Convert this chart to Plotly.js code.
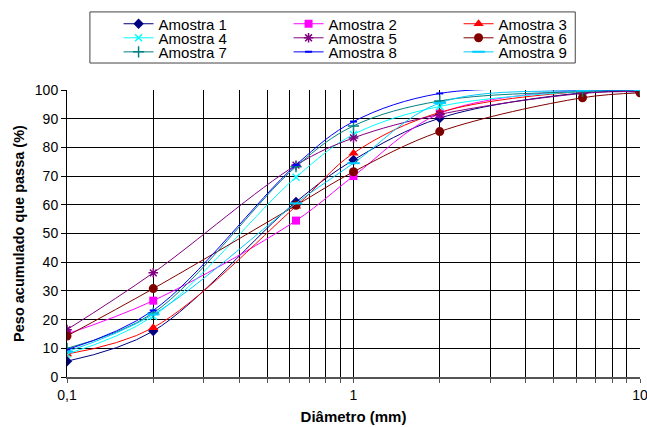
<!DOCTYPE html>
<html>
<head>
<meta charset="utf-8">
<script src="https://cdn.plot.ly/plotly-3.0.1.min.js"></script>
<style>html,body{margin:0;padding:0;background:#fff;}#chart{width:647px;height:427px;}</style>
</head>
<body>
<div id="chart"></div>
<script>
// Sieve diameters (mm)
const diametro = [0.1, 0.2, 0.63, 1, 2, 6.3, 10];
// Cumulative passing (%) per sample
const amostra1 = [5.5, 16.0, 61.0, 75.6, 90.2, 99.0, 99.3];
const amostra2 = [15.0, 26.6, 54.5, 70.0, 91.8, 100.0, 100.0];
const amostra3 = [8.0, 17.2, 59.5, 78.0, 92.2, 99.5, 99.8];
const amostra4 = [8.0, 21.2, 69.6, 84.5, 94.3, 99.5, 100.0];
const amostra5 = [16.5, 36.3, 73.8, 83.3, 91.5, 98.8, 99.5];
const amostra6 = [14.3, 30.8, 59.8, 71.5, 85.5, 97.3, 99.0];
const amostra7 = [10.0, 22.3, 73.3, 87.5, 96.2, 99.5, 100.0];
const amostra8 = [9.5, 23.2, 73.9, 89.0, 98.8, 100.0, 100.0];
const amostra9 = [8.8, 21.8, 60.5, 74.5, 95.5, 99.8, 100.0];
const nomes = ['Amostra 1','Amostra 2','Amostra 3','Amostra 4','Amostra 5','Amostra 6','Amostra 7','Amostra 8','Amostra 9'];

// Axis ticks
const xTickVals = [0.1,0.2,0.3,0.4,0.5,0.6,0.7,0.8,0.9,1,2,3,4,5,6,7,8,9,10];
const xTickText = ['0,1','','','','','','','','','1','','','','','','','','','10'];
const yTickVals = [0,10,20,30,40,50,60,70,80,90,100];

const series = [amostra1,amostra2,amostra3,amostra4,amostra5,amostra6,amostra7,amostra8,amostra9];
const cores = ['#000080','#FF00FF','#FF0000','#00FFFF','#800080','#800000','#008080','#0000FF','#00CCFF'];
const simbolos = ['diamond','square','triangle-up','x-thin-open','asterisk-open','circle','cross-thin-open','line-ew-open','line-ew-open'];
const tamanhos = [8,8,9,7,8,9,8,5,9];
const legendas = ['legend','legend','legend','legend2','legend2','legend2','legend3','legend3','legend3'];

const traces = series.map((y,i)=>({
  x: diametro, y: y, name: nomes[i], type:'scatter', mode:'lines+markers',
  line:{color:cores[i], width:1, shape:'spline', smoothing:1},
  marker:{symbol:simbolos[i], size:tamanhos[i], color:cores[i], line:{color:cores[i], width:(i===3||i===4||i===6)?1.5:(i>=7?2:0)}},
  legend: legendas[i]
}));

const FONT = 'Liberation Sans, Arial, sans-serif';
function leg(y){
  return {orientation:'h', x:0.09, xanchor:'left', y:y, yanchor:'middle',
    bgcolor:'rgba(0,0,0,0)', borderwidth:0, entrywidth:125, entrywidthmode:'pixels',
    font:{family:FONT, size:15, color:'#000'}, itemwidth:30, tracegroupgap:0};
}

const layout = {
  width:647, height:427,
  margin:{l:67, r:7, t:90, b:50, autoexpand:false},
  paper_bgcolor:'#fff', plot_bgcolor:'#fff',
  font:{family:FONT, size:14, color:'#000'},
  showlegend:true,
  legend: leg(1.230),
  legend2: leg(1.181),
  legend3: leg(1.132),
  xaxis:{type:'log', range:[-1,1], tickvals:xTickVals, ticktext:xTickText, ticklabeloverflow:'allow',
    showgrid:true, gridcolor:'#000', gridwidth:1, zeroline:false,
    showline:true, linecolor:'#555', linewidth:2, ticks:'outside', ticklen:4, tickcolor:'#555',
    tickfont:{family:FONT, size:14, color:'#000'},
    title:{text:'<b>Diâmetro (mm)</b>', font:{family:FONT, size:15, color:'#000'}, standoff:10}},
  yaxis:{range:[0,100], tickvals:yTickVals, showgrid:true, gridcolor:'#000', gridwidth:1, zeroline:false,
    showline:true, linecolor:'#000', linewidth:1, ticks:'outside', ticklen:5, tickcolor:'#000',
    tickfont:{family:FONT, size:14, color:'#000'},
    title:{text:'<b>Peso acumulado que passa (%)</b>', font:{family:FONT, size:14.5, color:'#000'}, standoff:6}},
  shapes:[{type:'rect', xref:'paper', yref:'paper', x0:0.040, x1:0.887, y0:1.094, y1:1.272,
    line:{color:'#444', width:1}, fillcolor:'rgba(0,0,0,0)'}]
};

Plotly.newPlot('chart', traces, layout, {displayModeBar:false, staticPlot:true});
</script>
</body>
</html>
